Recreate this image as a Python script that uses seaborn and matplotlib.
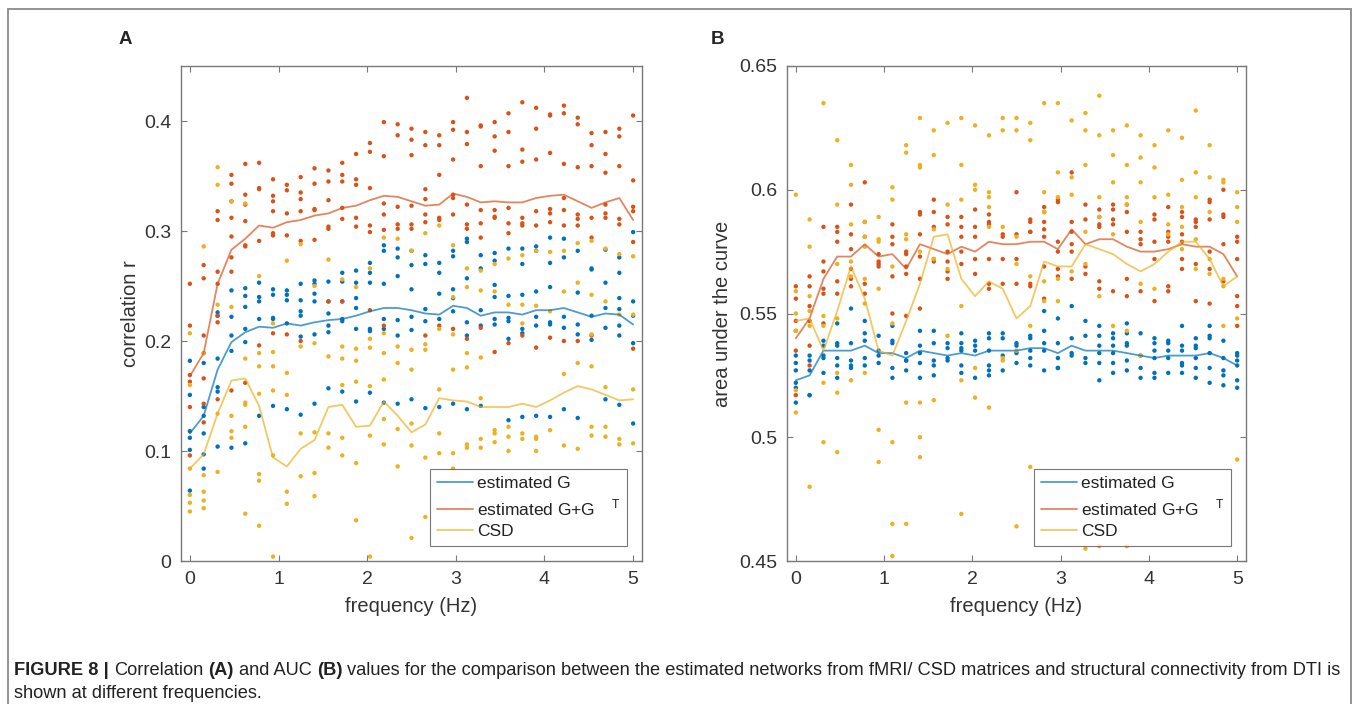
import matplotlib
matplotlib.use("Agg")
import matplotlib.pyplot as plt
from matplotlib.patches import Rectangle
import pandas as pd
import seaborn as sns

sns.set_style("ticks")
plt.rcParams['font.family'] = ['Liberation Sans', 'DejaVu Sans']
plt.rcParams['mathtext.fontset'] = 'custom'
plt.rcParams['mathtext.rm'] = 'Liberation Sans'

# frequency grid (Hz)
freqs = [0, 0.156, 0.313, 0.469, 0.625, 0.781, 0.938, 1.094, 1.25, 1.406, 1.563,
         1.719, 1.875, 2.031, 2.188, 2.344, 2.5, 2.656, 2.813, 2.969, 3.125, 3.281,
         3.438, 3.594, 3.75, 3.906, 4.063, 4.219, 4.375, 4.531, 4.688, 4.844, 5.0]

series_names = ["estimated G", "estimated G+G", "CSD"]
legend_labels = ["estimated G", r"estimated G+G$\quad^{\mathrm{T}}$", "CSD"]
colors = ["#0072BD", "#D95319", "#EDB120"]

# ---- panel A: correlation r ----
a_line_g = [0.116, 0.132, 0.174, 0.199, 0.208, 0.213, 0.212, 0.216, 0.214, 0.217, 0.219,
            0.220, 0.223, 0.227, 0.230, 0.230, 0.228, 0.225, 0.224, 0.232, 0.230, 0.223,
            0.226, 0.226, 0.224, 0.228, 0.228, 0.230, 0.226, 0.222, 0.225, 0.224, 0.215]
a_line_ggt = [0.168, 0.189, 0.252, 0.283, 0.293, 0.305, 0.303, 0.308, 0.310, 0.314, 0.316,
              0.321, 0.323, 0.328, 0.332, 0.331, 0.327, 0.323, 0.324, 0.334, 0.331, 0.326,
              0.327, 0.326, 0.326, 0.330, 0.332, 0.333, 0.327, 0.321, 0.326, 0.330, 0.310]
a_line_csd = [0.084, 0.097, 0.134, 0.164, 0.166, 0.141, 0.094, 0.086, 0.102, 0.110, 0.140,
              0.142, 0.122, 0.123, 0.145, 0.132, 0.117, 0.124, 0.148, 0.146, 0.145, 0.140,
              0.140, 0.140, 0.143, 0.140, 0.146, 0.153, 0.159, 0.156, 0.151, 0.146, 0.147]

a_pts_g = [
    [0.182, 0.151, 0.118, 0.112, 0.101, 0.064], [0.180, 0.140, 0.132, 0.116, 0.097, 0.084],
    [0.226, 0.223, 0.184, 0.158, 0.154, 0.104], [0.246, 0.222, 0.205, 0.191, 0.103],
    [0.248, 0.241, 0.231, 0.211, 0.199, 0.107], [0.253, 0.240, 0.236, 0.220, 0.132],
    [0.247, 0.242, 0.221, 0.220, 0.141], [0.246, 0.242, 0.237, 0.216, 0.138],
    [0.252, 0.237, 0.227, 0.223, 0.204, 0.133], [0.255, 0.252, 0.243, 0.236, 0.206, 0.143],
    [0.254, 0.236, 0.225, 0.214, 0.208, 0.157], [0.262, 0.254, 0.236, 0.220, 0.218, 0.154],
    [0.264, 0.253, 0.239, 0.230, 0.211, 0.145], [0.271, 0.262, 0.253, 0.211, 0.209, 0.153],
    [0.287, 0.282, 0.252, 0.220, 0.211, 0.144], [0.284, 0.276, 0.259, 0.219, 0.205, 0.143],
    [0.282, 0.269, 0.247, 0.222, 0.210, 0.147], [0.278, 0.270, 0.229, 0.218, 0.139],
    [0.271, 0.262, 0.243, 0.220, 0.140], [0.282, 0.277, 0.247, 0.239, 0.227, 0.143],
    [0.293, 0.290, 0.257, 0.217, 0.205, 0.138], [0.278, 0.266, 0.228, 0.214, 0.141],
    [0.280, 0.273, 0.251, 0.240, 0.220, 0.215], [0.284, 0.241, 0.221, 0.218, 0.202, 0.128],
    [0.284, 0.270, 0.242, 0.211, 0.207, 0.131], [0.286, 0.282, 0.245, 0.222, 0.214, 0.132],
    [0.294, 0.271, 0.249, 0.217, 0.215, 0.131], [0.293, 0.276, 0.222, 0.212, 0.138],
    [0.282, 0.244, 0.215, 0.206, 0.130], [0.266, 0.265, 0.223, 0.201],
    [0.283, 0.253, 0.230, 0.212, 0.147], [0.276, 0.262, 0.239, 0.229, 0.214, 0.205, 0.142],
    [0.299, 0.236, 0.223, 0.198, 0.125]]
a_pts_ggt = [
    [0.252, 0.214, 0.169, 0.163, 0.140, 0.096], [0.269, 0.257, 0.205, 0.189, 0.166, 0.143, 0.126],
    [0.318, 0.310, 0.263, 0.252, 0.223, 0.217, 0.147],
    [0.351, 0.343, 0.327, 0.312, 0.295, 0.276, 0.263, 0.155],
    [0.361, 0.333, 0.324, 0.309, 0.287, 0.286, 0.162], [0.362, 0.339, 0.338, 0.291, 0.196],
    [0.347, 0.332, 0.327, 0.318, 0.298, 0.296, 0.207], [0.342, 0.337, 0.316, 0.296, 0.206],
    [0.349, 0.335, 0.329, 0.318, 0.291, 0.200], [0.357, 0.343, 0.320, 0.319, 0.292],
    [0.355, 0.345, 0.328, 0.304, 0.302, 0.236], [0.362, 0.351, 0.345, 0.321, 0.311, 0.236],
    [0.370, 0.347, 0.342, 0.312, 0.304], [0.380, 0.372, 0.339, 0.305, 0.299, 0.228],
    [0.399, 0.368, 0.325, 0.315, 0.301, 0.214], [0.397, 0.387, 0.322, 0.306, 0.302],
    [0.393, 0.383, 0.369, 0.323, 0.306, 0.302], [0.390, 0.378, 0.338, 0.329, 0.315, 0.308, 0.205],
    [0.387, 0.378, 0.351, 0.312, 0.310, 0.214], [0.399, 0.392, 0.365, 0.333, 0.330, 0.315, 0.211],
    [0.421, 0.390, 0.379, 0.324, 0.306, 0.302, 0.202], [0.396, 0.395, 0.359, 0.319, 0.307, 0.294, 0.212],
    [0.399, 0.386, 0.373, 0.319, 0.313, 0.312, 0.190], [0.407, 0.390, 0.359, 0.321, 0.307, 0.298, 0.198],
    [0.417, 0.374, 0.363, 0.312, 0.307, 0.305, 0.205], [0.412, 0.393, 0.365, 0.318, 0.305, 0.194],
    [0.406, 0.405, 0.371, 0.320, 0.316, 0.308, 0.203], [0.414, 0.407, 0.361, 0.330, 0.319, 0.305, 0.200],
    [0.403, 0.397, 0.358, 0.315, 0.311, 0.305, 0.200], [0.389, 0.378, 0.359, 0.312, 0.294, 0.205],
    [0.390, 0.370, 0.353, 0.324, 0.316, 0.312], [0.393, 0.386, 0.359, 0.311, 0.306],
    [0.405, 0.346, 0.322, 0.318, 0.290, 0.193]]
a_pts_csd = [
    [0.207, 0.160, 0.084, 0.060, 0.053, 0.045], [0.286, 0.189, 0.078, 0.063, 0.055, 0.048],
    [0.358, 0.342, 0.233, 0.134, 0.081], [0.327, 0.231, 0.132, 0.118, 0.112],
    [0.325, 0.184, 0.144, 0.142, 0.122, 0.043], [0.259, 0.189, 0.177, 0.152, 0.079, 0.073, 0.032],
    [0.216, 0.190, 0.177, 0.155, 0.096, 0.004], [0.273, 0.171, 0.151, 0.063, 0.052],
    [0.288, 0.195, 0.116, 0.077], [0.250, 0.198, 0.117, 0.080, 0.059],
    [0.274, 0.186, 0.116, 0.103], [0.256, 0.195, 0.184, 0.160, 0.112, 0.096],
    [0.249, 0.193, 0.182, 0.163, 0.089, 0.037], [0.266, 0.202, 0.194, 0.159, 0.114, 0.004],
    [0.294, 0.207, 0.189, 0.165, 0.129, 0.106], [0.293, 0.195, 0.180, 0.120, 0.086],
    [0.282, 0.192, 0.174, 0.125, 0.105, 0.021], [0.298, 0.197, 0.192, 0.094, 0.040],
    [0.305, 0.211, 0.156, 0.116, 0.098], [0.287, 0.240, 0.206, 0.174, 0.098, 0.084],
    [0.266, 0.249, 0.189, 0.176, 0.106, 0.103], [0.264, 0.246, 0.185, 0.148, 0.111, 0.103],
    [0.270, 0.245, 0.119, 0.116, 0.108], [0.275, 0.233, 0.122, 0.113, 0.100],
    [0.278, 0.233, 0.216, 0.116, 0.111], [0.282, 0.232, 0.113, 0.111, 0.100],
    [0.281, 0.227, 0.119], [0.282, 0.245, 0.170, 0.105], [0.289, 0.253, 0.180, 0.102],
    [0.291, 0.242, 0.206, 0.177, 0.122, 0.114], [0.284, 0.236, 0.158, 0.122, 0.113],
    [0.279, 0.224, 0.111, 0.106], [0.277, 0.224, 0.156, 0.107]]

# ---- panel B: area under the curve ----
b_line_g = [0.523, 0.525, 0.535, 0.535, 0.535, 0.537, 0.534, 0.534, 0.532, 0.535, 0.534,
            0.533, 0.534, 0.533, 0.535, 0.535, 0.535, 0.536, 0.536, 0.534, 0.537, 0.535,
            0.535, 0.535, 0.534, 0.533, 0.532, 0.533, 0.533, 0.533, 0.534, 0.532, 0.529]
b_line_ggt = [0.540, 0.548, 0.564, 0.573, 0.573, 0.578, 0.573, 0.574, 0.568, 0.578, 0.576,
              0.574, 0.577, 0.575, 0.579, 0.578, 0.578, 0.579, 0.579, 0.576, 0.584, 0.578,
              0.580, 0.580, 0.577, 0.575, 0.575, 0.576, 0.578, 0.577, 0.577, 0.574, 0.565]
b_line_csd = [0.547, 0.548, 0.535, 0.551, 0.569, 0.556, 0.535, 0.533, 0.547, 0.562, 0.581,
              0.582, 0.564, 0.557, 0.563, 0.560, 0.548, 0.553, 0.571, 0.569, 0.569, 0.578,
              0.576, 0.574, 0.570, 0.567, 0.570, 0.575, 0.579, 0.579, 0.572, 0.561, 0.565]

b_pts_g = [
    [0.533, 0.530, 0.527, 0.522, 0.520, 0.514], [0.533, 0.531, 0.527, 0.517, 0.517],
    [0.539, 0.537, 0.533, 0.532, 0.526], [0.546, 0.538, 0.537, 0.532, 0.529, 0.524],
    [0.552, 0.538, 0.531, 0.529, 0.528], [0.547, 0.542, 0.539, 0.532, 0.529],
    [0.541, 0.535, 0.533, 0.530], [0.545, 0.539, 0.538, 0.528, 0.524],
    [0.534, 0.531, 0.531, 0.527], [0.543, 0.537, 0.534, 0.530, 0.524],
    [0.543, 0.538, 0.531, 0.529, 0.525], [0.538, 0.536, 0.532, 0.531],
    [0.542, 0.538, 0.536, 0.535, 0.529, 0.526], [0.539, 0.537, 0.535, 0.524],
    [0.542, 0.540, 0.535, 0.529, 0.527, 0.525], [0.542, 0.540, 0.533, 0.527],
    [0.538, 0.537, 0.534, 0.530], [0.541, 0.540, 0.535, 0.532, 0.529],
    [0.551, 0.543, 0.538, 0.535, 0.527], [0.548, 0.538, 0.532, 0.528, 0.528],
    [0.553, 0.540, 0.534, 0.533], [0.547, 0.541, 0.532, 0.530],
    [0.545, 0.541, 0.537, 0.534, 0.530, 0.523], [0.542, 0.540, 0.537, 0.534, 0.530, 0.526],
    [0.546, 0.542, 0.538, 0.537, 0.531, 0.527], [0.542, 0.533, 0.528, 0.524],
    [0.540, 0.538, 0.535, 0.532, 0.526, 0.524], [0.539, 0.538, 0.535, 0.532, 0.526],
    [0.545, 0.537, 0.535, 0.530, 0.529, 0.526], [0.540, 0.537, 0.536, 0.532, 0.528, 0.524],
    [0.545, 0.541, 0.540, 0.534, 0.528, 0.522], [0.539, 0.532, 0.527, 0.525, 0.521],
    [0.534, 0.533, 0.531, 0.529, 0.523, 0.520]]
b_pts_ggt = [
    [0.561, 0.556, 0.547, 0.543, 0.535, 0.517], [0.565, 0.561, 0.553, 0.547, 0.537, 0.529],
    [0.585, 0.571, 0.567, 0.560, 0.558, 0.546], [0.585, 0.583, 0.579, 0.563, 0.558],
    [0.594, 0.582, 0.576, 0.568, 0.564, 0.561], [0.603, 0.587, 0.581, 0.562, 0.558],
    [0.574, 0.571, 0.570, 0.569], [0.586, 0.581, 0.578, 0.565, 0.550],
    [0.575, 0.574, 0.569, 0.566, 0.549], [0.591, 0.590, 0.582, 0.573, 0.564, 0.552],
    [0.596, 0.591, 0.585, 0.572, 0.571], [0.589, 0.586, 0.575, 0.571, 0.567, 0.564],
    [0.589, 0.585, 0.581, 0.575, 0.570], [0.592, 0.585, 0.581, 0.572, 0.566],
    [0.590, 0.587, 0.586, 0.572, 0.562, 0.560], [0.582, 0.581, 0.572, 0.562],
    [0.599, 0.582, 0.572, 0.562], [0.588, 0.587, 0.583, 0.583, 0.562, 0.561],
    [0.593, 0.591, 0.587, 0.584, 0.581, 0.569, 0.556], [0.596, 0.595, 0.579, 0.575, 0.568, 0.565],
    [0.607, 0.587, 0.583, 0.578, 0.575, 0.564], [0.594, 0.588, 0.569, 0.566],
    [0.592, 0.589, 0.586, 0.585, 0.563, 0.560], [0.594, 0.592, 0.588, 0.586, 0.559],
    [0.594, 0.591, 0.583, 0.564, 0.557], [0.583, 0.580, 0.578, 0.559],
    [0.590, 0.588, 0.579, 0.572, 0.555], [0.593, 0.583, 0.581, 0.579, 0.561, 0.559],
    [0.591, 0.589, 0.582, 0.579, 0.572, 0.568], [0.588, 0.587, 0.585, 0.570, 0.555],
    [0.596, 0.595, 0.588, 0.575, 0.568, 0.554], [0.600, 0.590, 0.589, 0.578, 0.563],
    [0.581, 0.579, 0.572, 0.557, 0.553, 0.545]]
b_pts_csd = [
    [0.598, 0.559, 0.550, 0.543, 0.519, 0.510], [0.588, 0.577, 0.557, 0.551, 0.545, 0.480],
    [0.635, 0.549, 0.545, 0.522, 0.498], [0.620, 0.594, 0.570, 0.548, 0.526, 0.518, 0.494],
    [0.610, 0.602, 0.586, 0.571, 0.565, 0.523], [0.587, 0.581, 0.577, 0.564, 0.554, 0.526],
    [0.589, 0.580, 0.579, 0.560, 0.503, 0.490], [0.601, 0.596, 0.569, 0.546, 0.498, 0.465, 0.452],
    [0.618, 0.615, 0.582, 0.580, 0.514, 0.465], [0.629, 0.610, 0.609, 0.575, 0.514, 0.500, 0.492],
    [0.624, 0.614, 0.584, 0.572, 0.515], [0.627, 0.594, 0.568, 0.541],
    [0.629, 0.610, 0.596, 0.553, 0.523, 0.469], [0.626, 0.602, 0.600, 0.528, 0.516],
    [0.622, 0.599, 0.597, 0.593, 0.585, 0.512], [0.629, 0.624, 0.585, 0.532, 0.531],
    [0.629, 0.624, 0.581, 0.570, 0.535, 0.464], [0.627, 0.620, 0.565, 0.545, 0.488],
    [0.635, 0.599, 0.591, 0.563, 0.555], [0.635, 0.607, 0.597, 0.564, 0.555],
    [0.628, 0.605, 0.598, 0.567], [0.631, 0.624, 0.610, 0.583, 0.570, 0.455],
    [0.638, 0.622, 0.597, 0.589, 0.557, 0.456], [0.624, 0.614, 0.603, 0.582, 0.545],
    [0.626, 0.610, 0.597, 0.594, 0.543, 0.456], [0.622, 0.613, 0.603, 0.587, 0.562, 0.533],
    [0.618, 0.609, 0.597, 0.560], [0.624, 0.598, 0.586, 0.582],
    [0.621, 0.604, 0.593, 0.585, 0.576], [0.632, 0.607, 0.597, 0.580, 0.568],
    [0.618, 0.605, 0.591, 0.572, 0.566], [0.604, 0.603, 0.564, 0.561, 0.545],
    [0.599, 0.593, 0.587, 0.548, 0.491]]


def make_frames(pts_lists, line_lists):
    rows = []
    for name, pts in zip(series_names, pts_lists):
        for f, vals in zip(freqs, pts):
            for v in vals:
                rows.append({'freq': f, 'value': v, 'series': name})
    lrows = []
    for name, line in zip(series_names, line_lists):
        for f, v in zip(freqs, line):
            lrows.append({'freq': f, 'value': v, 'series': name})
    return pd.DataFrame(rows), pd.DataFrame(lrows)


def draw_panel(ax, pts_df, line_df, ylim, yticks, yticklabels, ylabel, label_x):
    pal = dict(zip(series_names, colors))
    sns.scatterplot(data=pts_df, x='freq', y='value', hue='series', palette=pal,
                    s=10, linewidth=0, legend=False, ax=ax, zorder=2)
    sns.lineplot(data=line_df, x='freq', y='value', hue='series', hue_order=series_names,
                 palette=pal, linewidth=1.3, alpha=0.7, ax=ax, zorder=3)
    ax.set_xlim(-0.1, 5.1)
    ax.set_ylim(*ylim)
    ax.set_xticks([0, 1, 2, 3, 4, 5])
    ax.set_xticklabels(['0', '1', '2', '3', '4', '5'])
    ax.set_yticks(yticks)
    ax.set_yticklabels(yticklabels)
    ax.tick_params(direction='in', top=True, right=True, length=4, width=0.8,
                   labelsize=14, colors='#7a7a7a', labelcolor='#333333', pad=7)
    for sp in ax.spines.values():
        sp.set_visible(True)
        sp.set_color('#7a7a7a')
        sp.set_linewidth(1.0)
    ax.set_xlabel('frequency (Hz)', fontsize=14.5, color='#333333')
    ax.set_ylabel(ylabel, fontsize=14.5, color='#333333')
    ax.xaxis.set_label_coords(0.5, -0.072)
    ax.yaxis.set_label_coords(label_x, 0.5)
    handles, _ = ax.get_legend_handles_labels()
    leg = ax.legend(handles=handles, labels=legend_labels, loc='lower right', fontsize=12.5,
                    frameon=True, fancybox=False, edgecolor='#555555', handlelength=2.1,
                    borderaxespad=0.85, labelspacing=0.35, handletextpad=0.2, borderpad=0.4)
    leg.get_frame().set_linewidth(0.8)
    for t in leg.get_texts():
        t.set_color('#222222')


fig = plt.figure(figsize=(13.58, 7.04), dpi=100)
W, H = 1358, 704
ax_a = fig.add_axes([181 / W, 1 - 561 / H, 461 / W, 495 / H])
ax_b = fig.add_axes([787 / W, 1 - 561 / H, 459 / W, 495 / H])

pa, la = make_frames([a_pts_g, a_pts_ggt, a_pts_csd], [a_line_g, a_line_ggt, a_line_csd])
pb, lb = make_frames([b_pts_g, b_pts_ggt, b_pts_csd], [b_line_g, b_line_ggt, b_line_csd])

draw_panel(ax_a, pa, la, (0, 0.45), [0, 0.1, 0.2, 0.3, 0.4],
           ['0', '0.1', '0.2', '0.3', '0.4'], 'correlation r', -0.09)
draw_panel(ax_b, pb, lb, (0.45, 0.65), [0.45, 0.5, 0.55, 0.6, 0.65],
           ['0.45', '0.5', '0.55', '0.6', '0.65'], 'area under the curve', -0.12)

fig.text(125 / W, 1 - 40 / H, 'A', fontsize=13.5, fontweight='bold', ha='center', va='center')
fig.text(718 / W, 1 - 40 / H, 'B', fontsize=13.5, fontweight='bold', ha='center', va='center')

# outer frame (open at the bottom)
fig.patches.append(Rectangle((8 / W, -0.05), 1343 / W, 1.05 - 9 / H, transform=fig.transFigure,
                             fill=False, edgecolor='#8a8a8a', linewidth=1.3, clip_on=False))

# caption with mixed bold / regular runs
line1 = [("FIGURE 8 |", 'bold'), ("Correlation", 'normal'), ("(A)", 'bold'),
         ("and AUC", 'normal'), ("(B)", 'bold'),
         ("values for the comparison between the estimated networks from fMRI/ CSD matrices "
          "and structural connectivity from DTI is", 'normal')]
line2 = [("shown at different frequencies.", 'normal')]

fig.canvas.draw()
renderer = fig.canvas.get_renderer()


def text_width(s, size, weight):
    t = fig.text(0, 0, s, fontsize=size, fontweight=weight)
    w = t.get_window_extent(renderer).width
    t.remove()
    return w


def caption_line(pieces, y_px, size, x0=14):
    space = text_width("a a", size, 'normal') - text_width("aa", size, 'normal')
    x = x0
    for s, wgt in pieces:
        t = fig.text(x / W, 1 - y_px / H, s, fontsize=size, fontweight=wgt,
                     ha='left', va='baseline', color='#222222')
        x += t.get_window_extent(renderer).width + space


base = 12
total = sum(text_width(s, base, w) for s, w in line1)
total += (len(line1) - 1) * (text_width("a a", base, 'normal') - text_width("aa", base, 'normal'))
cap_size = base * 1326 / total
caption_line(line1, 675, cap_size)
caption_line(line2, 698, cap_size)

fig.savefig('out.png', dpi=100)
